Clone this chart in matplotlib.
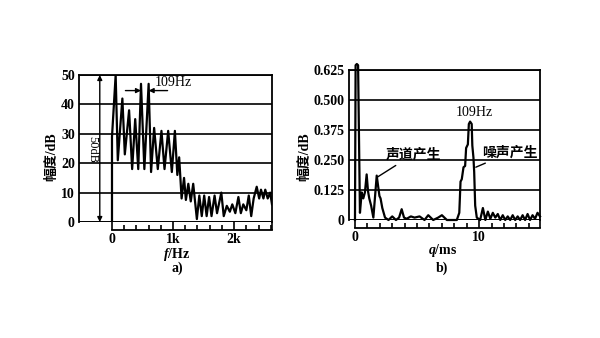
import matplotlib
matplotlib.use("Agg")
import matplotlib.pyplot as plt
import numpy as np
from matplotlib.ticker import FixedLocator, FixedFormatter

plt.rcParams['font.family'] = ['Liberation Serif', 'Noto Sans CJK SC']
plt.rcParams['font.weight'] = 'bold'
plt.rcParams['mathtext.fontset'] = 'custom'
plt.rcParams['mathtext.it'] = 'Liberation Serif:italic:bold'
plt.rcParams['mathtext.rm'] = 'Liberation Serif:bold'

# a) spectrum, frequency in kHz, level in dB
freq_k = [0, 0, 0.06, 0.095, 0.17, 0.21, 0.28, 0.33, 0.38, 0.43, 0.475, 0.53, 0.6, 0.64,
          0.69, 0.75, 0.81, 0.86, 0.92, 0.98, 1.03, 1.07, 1.1, 1.14, 1.18, 1.21, 1.25, 1.29,
          1.33, 1.39, 1.43, 1.47, 1.51, 1.55, 1.59, 1.63, 1.68, 1.72, 1.79, 1.83, 1.88, 1.93,
          1.97, 2.02, 2.07, 2.11, 2.15, 2.20, 2.24, 2.28, 2.32, 2.37, 2.41, 2.44, 2.48, 2.51,
          2.55, 2.59, 2.62]
level_db = [0, 29, 50, 21, 42, 23, 38, 18, 35, 18, 47, 18, 47, 17,
            32, 18, 31, 18, 31, 17, 31, 16, 22, 8, 15, 7.5, 13, 7,
            13, 1, 9, 2, 9, 2, 8.5, 2, 9, 3, 10, 2, 5.5, 3.5,
            6, 3, 8.5, 3, 6, 4, 9, 2, 8, 12, 8, 11, 8, 11,
            8, 10, 6]
a_yticks = [0, 10, 20, 30, 40, 50]
a_xticks = [0, 1, 2]
a_xlabels = ['0', '1k', '2k']

# b) cepstrum, quefrency in ms
quef_ms = [0, 0.05, 0.15, 0.25, 0.4, 0.54, 0.67, 0.8, 0.94, 1.05,
           1.15, 1.3, 1.48, 1.75, 1.97, 2.06, 2.2, 2.42, 2.7, 3.0,
           3.3, 3.55, 3.76, 3.95, 4.16, 4.5, 4.8, 5.2, 5.6, 5.9,
           6.3, 6.7, 7.0, 7.4, 7.7, 8.2, 8.4, 8.5, 8.6, 8.74,
           8.87, 8.95, 9.09, 9.17, 9.27, 9.4, 9.45, 9.54, 9.6, 9.68,
           9.81, 10.08, 10.3, 10.5, 10.7, 10.9, 11.1, 11.3, 11.5, 11.7,
           11.9, 12.1, 12.3, 12.5, 12.7, 12.9, 13.1, 13.3, 13.5, 13.7,
           13.9, 14.1, 14.3, 14.5, 14.7, 14.9]
ceps = [0, 0.645, 0.65, 0.645, 0.03, 0.115, 0.09, 0.115, 0.19, 0.12,
        0.09, 0.06, 0.01, 0.185, 0.1, 0.09, 0.05, 0.01, 0.0, 0.015,
        0.0, 0.01, 0.045, 0.01, 0.005, 0.015, 0.01, 0.015, 0.0, 0.02,
        0.0, 0.01, 0.02, 0.0, 0.0, 0.0, 0.03, 0.16, 0.17, 0.22,
        0.225, 0.30, 0.315, 0.40, 0.41, 0.40, 0.31, 0.26, 0.2, 0.06,
        0.01, 0.0, 0.05, 0.0, 0.035, 0.005, 0.03, 0.01, 0.025, 0.0,
        0.02, 0.0, 0.015, 0.0, 0.02, 0.0, 0.015, 0.0, 0.02, 0.0,
        0.025, 0.0, 0.02, 0.005, 0.03, 0.015]
b_yticks = [0, 0.125, 0.25, 0.375, 0.5, 0.625]
b_ylabels = ['0', '0.125', '0.250', '0.375', '0.500', '0.625']
b_xticks = [0, 10]

fig = plt.figure(figsize=(6, 3.38), dpi=100)
ax1 = fig.add_axes([0.1317, 0.3432, 0.3216, 0.4349])
ax2 = fig.add_axes([0.5817, 0.3491, 0.3183, 0.4438])


def frame(ax, xmin, xmax, ymax, yticks, ylabels, xticks, xlabels, minor):
    ax.set_xlim(xmin, xmax)
    ax.set_ylim(0, ymax)
    for s in ax.spines.values():
        s.set_linewidth(1.3)
    ax.spines['bottom'].set_position(('outward', 6))
    ax.spines['bottom'].set_bounds(0, xmax)
    ax.set_yticks(yticks)
    ax.set_yticklabels(ylabels)
    ax.tick_params(axis='y', length=0, pad=3, labelsize=10)
    ax.grid(axis='y', color='black', lw=1.2)
    ax.axhline(0, color='black', lw=1.3)
    ax.xaxis.set_major_locator(FixedLocator(xticks + [xmax]))
    ax.xaxis.set_major_formatter(FixedFormatter(xlabels + ['']))
    ax.xaxis.set_minor_locator(FixedLocator(np.arange(0, xmax, minor)))
    ax.tick_params(axis='x', which='major', direction='in', length=6.5, width=1.2,
                   pad=2, labelsize=10)
    ax.tick_params(axis='x', which='minor', direction='in', length=3.5, width=1.2)


frame(ax1, -0.54, 2.62, 50, a_yticks, [str(v) for v in a_yticks], a_xticks, a_xlabels, 0.2)
frame(ax2, -0.48, 14.9, 0.625, b_yticks, b_ylabels, b_xticks, ['0', '10'], 1)

ax1.plot(freq_k, level_db, color='black', lw=1.6)
ax1.annotate('', xy=(-0.2, 0), xytext=(-0.2, 50),
             arrowprops=dict(arrowstyle='<|-|>', color='black', lw=1, mutation_scale=7,
                             shrinkA=0, shrinkB=0))
ax1.text(-0.33, 24.5, '50dB', rotation=-90, ha='center', va='center', fontsize=9,
         fontweight='normal')
ax1.annotate('', xy=(0.475, 44.7), xytext=(0.22, 44.7),
             arrowprops=dict(arrowstyle='-|>', color='black', lw=1, mutation_scale=7,
                             shrinkA=0, shrinkB=0))
ax1.annotate('', xy=(0.6, 44.7), xytext=(0.91, 44.7),
             arrowprops=dict(arrowstyle='-|>', color='black', lw=1, mutation_scale=7,
                             shrinkA=0, shrinkB=0))
ax1.text(0.7, 47.3, '109Hz', ha='left', va='center', fontsize=10, fontweight='normal')

ax2.plot(quef_ms, ceps, color='black', lw=1.6, clip_on=False)
ax2.text(9.6, 0.449, '109Hz', ha='center', va='center', fontsize=10, fontweight='normal')
ax2.annotate('声道产生', xy=(1.78, 0.178), xytext=(4.68, 0.273), ha='center', va='center',
             fontsize=10, arrowprops=dict(arrowstyle='-', color='black', lw=1,
                                          shrinkA=2, shrinkB=0))
ax2.annotate('噪声产生', xy=(9.73, 0.22), xytext=(12.5, 0.281), ha='center', va='center',
             fontsize=10, arrowprops=dict(arrowstyle='-', color='black', lw=1,
                                          shrinkA=2, shrinkB=0))

fig.text(0.087, 0.535, '幅度/dB', rotation=90, ha='center', va='center', fontsize=10)
fig.text(0.508, 0.535, '幅度/dB', rotation=90, ha='center', va='center', fontsize=10)
fig.text(0.295, 0.246, '$f$/Hz', ha='center', va='center', fontsize=10)
fig.text(0.738, 0.258, '$q$/ms', ha='center', va='center', fontsize=10)
fig.text(0.295, 0.205, 'a)', ha='center', va='center', fontsize=10)
fig.text(0.737, 0.205, 'b)', ha='center', va='center', fontsize=10)

fig.savefig('out.png', dpi=100)
